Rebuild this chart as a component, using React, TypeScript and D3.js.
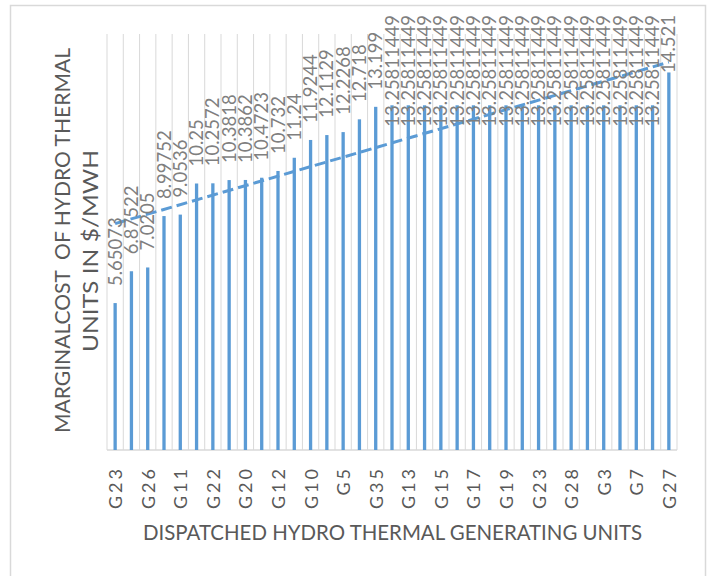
import React, { useEffect, useRef } from "react";
import * as d3 from "d3";

// ---- data ----
const categories: string[] = [
  "G23", "G24", "G26", "G4", "G11", "G21", "G22", "G2", "G20", "G1",
  "G12", "G29", "G10", "G30", "G5", "G31", "G35", "G32", "G13", "G34",
  "G15", "G14", "G17", "G16", "G19", "G18", "G23", "G36", "G28", "G9",
  "G3", "G8", "G7", "G6", "G27",
];
const marginalCost: number[] = [
  5.65073, 6.87522, 7.0205, 8.99752, 9.0536, 10.25, 10.2572, 10.3818, 10.3862, 10.4723,
  10.732, 11.24, 11.9244, 12.1129, 12.2268, 12.718, 13.199, 13.25811449, 13.25811449, 13.25811449,
  13.25811449, 13.25811449, 13.25811449, 13.25811449, 13.25811449, 13.25811449, 13.25811449, 13.25811449, 13.25811449, 13.25811449,
  13.25811449, 13.25811449, 13.25811449, 13.25811449, 14.521,
];
const yDomain: [number, number] = [0, 16];
const yTitleLines: string[] = ["MARGINALCOST  OF HYDRO THERMAL", "UNITS IN $/MWH"];
const xTitle = "DISPATCHED HYDRO THERMAL GENERATING UNITS";

// ---- layout ----
const W = 711;
const H = 576;
const plot = { left: 107, right: 677, top: 34, bottom: 450 };
const BLUE = "#5b9bd5";
const GRID = "#d9d9d9";
const TEXT = "#595959";
const LABEL = "#7f7f7f";
const FONT = "Lato, 'Open Sans', sans-serif";

export default function App() {
  const ref = useRef<SVGSVGElement>(null);

  useEffect(() => {
    const svg = d3.select(ref.current);
    svg.selectAll("*").remove();

    const idx = categories.map((_, i) => i);
    const x = d3.scaleBand<number>().domain(idx).range([plot.left, plot.right]).padding(0);
    const y = d3.scaleLinear().domain(yDomain).range([plot.bottom, plot.top]);
    const cx = (i: number) => (x(i) as number) + x.bandwidth() / 2;

    // chart border
    svg.append("rect")
      .attr("x", 10.5).attr("y", 5.5).attr("width", 695).attr("height", 600)
      .attr("fill", "white").attr("stroke", GRID).attr("stroke-width", 1.5);

    // vertical gridlines at category boundaries
    const bounds = idx.map((i) => x(i) as number).concat([plot.right]);
    svg.append("g").selectAll("line").data(bounds).join("line")
      .attr("x1", (d) => d).attr("x2", (d) => d)
      .attr("y1", plot.top).attr("y2", plot.bottom)
      .attr("stroke", GRID).attr("stroke-width", 1);

    // baseline
    svg.append("line")
      .attr("x1", plot.left).attr("x2", plot.right)
      .attr("y1", plot.bottom).attr("y2", plot.bottom)
      .attr("stroke", GRID).attr("stroke-width", 1.3);

    // bars
    const bw = 3.3;
    svg.append("g").selectAll("rect").data(marginalCost).join("rect")
      .attr("x", (_, i) => cx(i) - bw / 2)
      .attr("width", bw)
      .attr("y", (d) => y(d))
      .attr("height", (d) => y(0) - y(d))
      .attr("fill", BLUE);

    // linear trendline
    const n = marginalCost.length;
    const mx = d3.mean(idx) as number;
    const my = d3.mean(marginalCost) as number;
    let sxy = 0, sxx = 0;
    idx.forEach((i) => { sxy += (i - mx) * (marginalCost[i] - my); sxx += (i - mx) * (i - mx); });
    const slope = sxy / sxx;
    const icpt = my - slope * mx;
    const trend: [number, number][] = [[0, icpt], [n - 1, icpt + slope * (n - 1)]];
    svg.append("path")
      .attr("d", d3.line<[number, number]>().x((d) => cx(d[0])).y((d) => y(d[1]))(trend) as string)
      .attr("fill", "none").attr("stroke", BLUE).attr("stroke-width", 3)
      .attr("stroke-dasharray", "11 5");

    // data labels (rotated, outside end, clamped inside chart area)
    const labelSize = 18.5;
    const lg = svg.append("g");
    marginalCost.forEach((v, i) => {
      const t = lg.append("text")
        .attr("font-family", FONT).attr("font-size", labelSize)
        .attr("fill", LABEL)
        .text(String(v));
      const len = (t.node() as SVGTextElement).getComputedTextLength();
      let start = y(v) - 17;
      if (start - len < 15) start = 15 + len;
      const bx = cx(i) + 6.5;
      t.attr("transform", `translate(${bx},${start}) rotate(-90)`);
    });

    // category tick labels (every other category)
    svg.append("g").selectAll("text").data(idx.filter((i) => i % 2 === 0)).join("text")
      .attr("transform", (i) => `translate(${cx(i) + 7},466) rotate(-90)`)
      .attr("text-anchor", "end")
      .attr("font-family", FONT).attr("font-size", 18)
      .attr("letter-spacing", 3)
      .attr("fill", TEXT)
      .text((i) => categories[i]);

    // axis titles (cap height matched, width matched)
    const titleSize = 21;
    svg.append("text")
      .attr("x", 143).attr("y", 540)
      .attr("font-family", FONT).attr("font-size", titleSize)
      .attr("textLength", 499).attr("lengthAdjust", "spacingAndGlyphs")
      .attr("fill", TEXT)
      .text(xTitle);

    const yStarts = [433, 352];
    const yLens = [385, 202];
    const yBase = [70, 98];
    yTitleLines.forEach((line, k) => {
      svg.append("text")
        .attr("transform", `translate(${yBase[k]},${yStarts[k]}) rotate(-90)`)
        .attr("font-family", FONT).attr("font-size", titleSize)
        .attr("textLength", yLens[k]).attr("lengthAdjust", "spacingAndGlyphs")
        .attr("fill", TEXT)
        .style("white-space", "pre")
        .text(line);
    });
  }, []);

  return (
    <svg
      ref={ref}
      width={W}
      height={H}
      style={{ position: "absolute", left: 0, top: 0, background: "white" }}
    />
  );
}
